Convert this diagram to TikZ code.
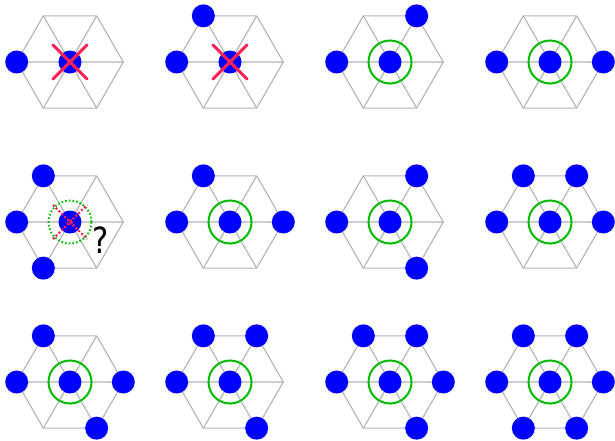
\documentclass[tikz,border=0pt]{standalone}
\usepackage{fontspec}
\setmainfont{DejaVu Sans}
\usetikzlibrary{calc}
\definecolor{hexgray}{RGB}{178,178,178}
\definecolor{dotblue}{RGB}{0,0,255}
\definecolor{ringgreen}{RGB}{0,187,0}
\definecolor{crossred}{RGB}{255,34,85}
\tikzset{
  hexline/.style={draw=hexgray,line width=1.1pt},
  site/.style={circle,fill=dotblue,minimum size=23pt,inner sep=0pt},
  ring/.style={draw=ringgreen,line width=2pt},
  ringdotted/.style={draw=ringgreen,line width=2pt,dash pattern=on 1.6pt off 2.1pt},
  crossline/.style={draw=crossred,line width=3pt,line cap=round},
  crossdotted/.style={draw=crossred,line width=2.2pt,dash pattern=on 2pt off 2pt},
  pics/hexgrid/.style={code={
    \draw[hexline] (0:53.3) -- (60:53.3) -- (120:53.3) -- (180:53.3) -- (240:53.3) -- (300:53.3) -- cycle;
    \draw[hexline] (0:53.3) -- (180:53.3) (60:53.3) -- (240:53.3) (120:53.3) -- (300:53.3);
    \node[site] (-c) at (0,0) {};
  }},
  pics/greenring/.style={code={\draw[ring] (0,0) circle (21.5);}},
  pics/redcross/.style={code={
    \draw[crossline] (-17,17) -- (17,-17);
    \draw[crossline] (-17,-17) -- (17,17);
  }},
}
\newcommand{\sites}[2]{\foreach \a in {#2} {\node[site] at ($(#1)+(\a:53.3)$) {};}}
\begin{document}
\begin{tikzpicture}[x=1pt,y=1pt]
\useasboundingbox (0,-440) rectangle (615,0);
% panel centres
\coordinate (p11) at (70,-62);  \coordinate (p12) at (230,-62);  \coordinate (p13) at (390,-62);  \coordinate (p14) at (550,-62);
\coordinate (p21) at (70,-222); \coordinate (p22) at (230,-222); \coordinate (p23) at (390,-222); \coordinate (p24) at (550,-222);
\coordinate (p31) at (70,-382); \coordinate (p32) at (230,-382); \coordinate (p33) at (390,-382); \coordinate (p34) at (550,-382);
\foreach \p in {p11,p12,p13,p14,p21,p22,p23,p24,p31,p32,p33,p34} {\pic (h\p) at (\p) {hexgrid};}
% row 1
\sites{p11}{180}
\pic at (p11) {redcross};
\sites{p12}{180,120}
\pic at (p12) {redcross};
\sites{p13}{180,60}
\pic at (p13) {greenring};
\sites{p14}{180,0}
\pic at (p14) {greenring};
% row 2
\sites{p21}{120,180,240}
\draw[ringdotted] (p21) circle (21.5);
\draw[crossdotted] ($(p21)+(-17,17)$) -- ($(p21)+(17,-17)$);
\draw[crossdotted] ($(p21)+(-17,-17)$) -- ($(p21)+(17,17)$);
\draw[draw=crossred,line width=1.2pt,dash pattern=on 1pt off 1pt] (p21) circle (2.6);
\node[font=\fontsize{36}{36}\selectfont,inner sep=0pt,xscale=0.85] (q) at (101,-240) {?};
\sites{p22}{120,180,0}
\pic at (p22) {greenring};
\sites{p23}{180,60,300}
\pic at (p23) {greenring};
\sites{p24}{120,60,180,0}
\pic at (p24) {greenring};
% row 3
\sites{p31}{120,180,0,300}
\pic at (p31) {greenring};
\sites{p32}{120,60,180,300}
\pic at (p32) {greenring};
\sites{p33}{120,60,180,0,300}
\pic at (p33) {greenring};
\sites{p34}{0,60,120,180,240,300}
\pic at (p34) {greenring};
\end{tikzpicture}
\end{document}
